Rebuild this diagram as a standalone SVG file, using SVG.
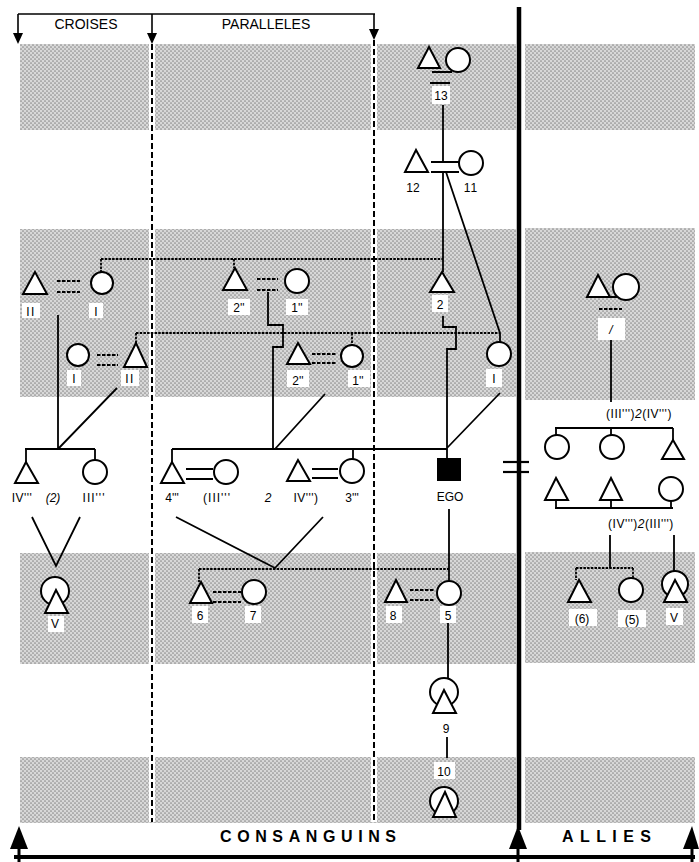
<svg xmlns="http://www.w3.org/2000/svg" width="699" height="862" viewBox="0 0 699 862">
<defs>
<pattern id="ht" width="4" height="4" patternUnits="userSpaceOnUse"><rect width="4" height="4" fill="#d8d8d8"/><circle cx="1" cy="1" r="0.85" fill="#8c8c8c"/><circle cx="3" cy="3" r="0.85" fill="#8c8c8c"/></pattern>
<style>
.band{fill:url(#ht)}
.s{fill:#fff;stroke:#000;stroke-width:2}
.ln{stroke:#000;stroke-width:1.8;fill:none}
.dot{stroke-dasharray:2.5 1.2}
.dsh{stroke-dasharray:3.5 1.5}
.div{stroke:#000;stroke-width:2;stroke-dasharray:6 3;fill:none}
.t{font-family:"Liberation Sans",Arial,sans-serif;font-size:12px;text-anchor:middle;fill:#000}
.i{font-style:italic}
.box{fill:#fff}
.hd{font-family:"Liberation Sans",Arial,sans-serif;font-size:14px;text-anchor:middle;fill:#000}
.ft{font-family:"Liberation Sans",Arial,sans-serif;font-size:16px;font-weight:bold;fill:#000}
</style>
</defs>
<rect width="699" height="862" fill="#fff"/>
<g id="bands">
<rect class="band" x="20" y="44" width="496" height="86"/><rect class="band" x="525" y="44" width="170" height="86"/>
<rect class="band" x="20" y="229" width="496" height="168"/><rect class="band" x="525" y="228" width="170" height="172"/>
<rect class="band" x="20" y="553" width="496" height="111"/><rect class="band" x="525" y="552" width="170" height="111"/>
<rect class="band" x="20" y="757" width="496" height="66"/><rect class="band" x="525" y="757" width="170" height="66"/>
</g>
<g id="frame">
<line x1="152" y1="44" x2="152" y2="822" stroke="#fff" stroke-width="6"/>
<line x1="374" y1="40" x2="374" y2="822" stroke="#fff" stroke-width="6"/>
<line class="div" x1="152" y1="44" x2="152" y2="822"/>
<line class="div" x1="374" y1="40" x2="374" y2="822"/>
<line x1="18" y1="14" x2="375" y2="14" stroke="#000" stroke-width="1.6"/>
<line x1="18" y1="14" x2="18" y2="34" stroke="#000" stroke-width="1.6"/><polygon points="13,33 23,33 18,44"/>
<line x1="152" y1="14" x2="152" y2="34" stroke="#000" stroke-width="1.6"/><polygon points="147,33 157,33 152,44"/>
<line x1="374" y1="14" x2="374" y2="30" stroke="#000" stroke-width="1.6"/><polygon points="369,29 379,29 374,40"/>
<text class="hd" x="86" y="29">CROISES</text>
<text class="hd" x="266" y="29">PARALLELES</text>
<line x1="519" y1="7" x2="519" y2="830" stroke="#000" stroke-width="4.5"/>
<line x1="503" y1="462" x2="529" y2="462" stroke="#000" stroke-width="2.2"/>
<line x1="503" y1="472" x2="529" y2="472" stroke="#000" stroke-width="2.2"/>
<line x1="14" y1="857" x2="695" y2="857" stroke="#000" stroke-width="4"/>
<line x1="19" y1="845" x2="19" y2="862" stroke="#000" stroke-width="3"/><polygon points="10,849 28,849 19,826"/>
<line x1="518" y1="845" x2="518" y2="862" stroke="#000" stroke-width="3"/><polygon points="509,849 527,849 518,826"/>
<line x1="692" y1="845" x2="692" y2="862" stroke="#000" stroke-width="3"/><polygon points="683,849 699,849 692,826"/>
<text class="ft" x="220" y="842" letter-spacing="5.6">CONSANGUINS</text>
<text class="ft" x="562" y="842" letter-spacing="6.4">ALLIES</text>
</g>
<g id="connectors">
<path class="ln" d="M443,105V162M431,162H459M431,172H459M443,172V272M446,172L500,333V342"/>
<path class="ln" d="M432,72H452M430,83H450"/>
<path class="ln dot" d="M101,259H443M101,259V272M234,259V268"/>
<path class="ln dot" d="M136,333H500M136,333V343M352,333V345"/>
<path class="ln dsh" d="M57,281H80M57,292H80M97,355H118M97,365H118"/>
<path class="ln" d="M58,315V449M117,388L58,449M25,449H95M26,449V462M95,449V460"/>
<path class="ln" d="M32,517L56,566L80,517"/>
<path class="ln dsh" d="M257,279H278M257,290H278M312,354H337M312,363H337"/>
<path class="ln" d="M268,292V325H283V347H273V449M325,394L275,449"/>
<path class="ln" d="M172,449H447M172,449V462M353,449V459"/>
<path class="ln" d="M186,469H213M186,479H213M312,469H338M312,478H338"/>
<path class="ln" d="M443,316V327H456V349H447V458M500,393L447,448"/>
<path class="ln" d="M449,509V582"/>
<path class="ln dot" d="M199,569H449M199,569V582"/>
<path class="ln" d="M176,517L275,568L323,517"/>
<path class="ln dsh" d="M213,592H241M213,602H241M410,590H435M410,600H435"/>
<path class="ln" d="M448,606V678M447,737V758"/>
<path class="ln" d="M598,297H632"/>
<path class="ln dsh" d="M599,309H622"/>
<path class="ln" d="M611,340V402M555,428H673M556,428V436M611,428V435M673,428V440"/>
<path class="ln" d="M555,508H673M556,500V508M611,500V508M671,501V508"/>
<path class="ln" d="M610,535V568M674,535V571"/>
<path class="ln dot" d="M576,568H633M576,568V580M633,568V578"/>
</g>
<g id="n13"><polygon class="s" points="429,47 418,68 440,68"/><circle class="s" cx="458" cy="60" r="12"/><rect class="box" x="432" y="86" width="18" height="18"/><text class="t" x="441" y="100">13</text></g>
<g id="n12"><polygon class="s" points="416,150 405,172 428,172"/><text class="t" x="413" y="192">12</text></g>
<g id="n11"><circle class="s" cx="471" cy="163" r="12"/><text class="t" x="471" y="192" letter-spacing="1">11</text></g>
<g id="nII_a"><polygon class="s" points="35,272 23,294 47,294"/><rect class="box" x="22" y="303" width="18" height="15"/><text class="t" x="31" y="316" letter-spacing="1.5">II</text></g>
<g id="nI_a"><circle class="s" cx="102" cy="283" r="11"/><rect class="box" x="89" y="303" width="14" height="15"/><text class="t" x="96" y="316">I</text></g>
<g id="nI_b"><circle class="s" cx="78" cy="355" r="11"/><rect class="box" x="67" y="370" width="14" height="16"/><text class="t" x="74" y="383">I</text></g>
<g id="nII_b"><polygon class="s" points="136,343 124,367 147,367"/><rect class="box" x="121" y="370" width="18" height="16"/><text class="t" x="130" y="383" letter-spacing="1.5">II</text></g>
<g id="n2pp_a"><polygon class="s" points="235,268 223,290 247,290"/><rect class="box" x="228" y="299" width="22" height="16"/><text class="t" x="239" y="312">2''</text></g>
<g id="n1pp_a"><circle class="s" cx="297" cy="281" r="12"/><rect class="box" x="286" y="299" width="22" height="16"/><text class="t" x="297" y="312">1''</text></g>
<g id="n2pp_b"><polygon class="s" points="298,343 287,364 310,364"/><rect class="box" x="287" y="370" width="22" height="17"/><text class="t" x="298" y="385">2''</text></g>
<g id="n1pp_b"><circle class="s" cx="352" cy="356" r="11"/><rect class="box" x="348" y="370" width="22" height="17"/><text class="t" x="358" y="385">1''</text></g>
<g id="n2"><polygon class="s" points="442,272 430,292 454,292"/><rect class="box" x="432" y="295" width="16" height="17"/><text class="t" x="440" y="309">2</text></g>
<g id="nI_c"><circle class="s" cx="499" cy="354" r="12"/><rect class="box" x="486" y="369" width="16" height="18"/><text class="t" x="494" y="383">I</text></g>
<g id="nIV3_a"><polygon class="s" points="26,462 15,483 38,483"/><text class="t" x="22" y="502" letter-spacing="0.5">IV'''</text></g>
<g id="nIII3_a"><circle class="s" cx="95" cy="472" r="12"/><text class="t" x="94" y="502" letter-spacing="1">III'''</text><text class="t i" x="53" y="502">(2)</text></g>
<g id="nV_a"><circle class="s" cx="55" cy="591" r="14"/><polygon class="s" points="56,590 45,613 68,613"/><rect class="box" x="48" y="616" width="16" height="16"/><text class="t" x="55" y="628">V</text></g>
<g id="n4"><polygon class="s" points="172,462 161,483 184,483"/><text class="t" x="172" y="502">4'''</text></g>
<g id="nIII3_b"><circle class="s" cx="226" cy="472" r="12"/><text class="t" x="217" y="502" letter-spacing="1">(III'''</text><text class="t i" x="268" y="502">2</text></g>
<g id="nIV3_b"><polygon class="s" points="298,460 287,481 310,481"/><text class="t" x="306" y="502" letter-spacing="0.5">IV''')</text></g>
<g id="n3"><circle class="s" cx="352" cy="471" r="12"/><text class="t" x="352" y="502">3'''</text></g>
<g id="nEGO"><rect x="437" y="458" width="24" height="23" fill="#000"/><text class="t" x="450" y="501">EGO</text></g>
<g id="n6"><polygon class="s" points="201,582 190,603 212,603"/><rect class="box" x="192" y="606" width="16" height="17"/><text class="t" x="200" y="620">6</text></g>
<g id="n7"><circle class="s" cx="254" cy="592" r="12"/><rect class="box" x="245" y="606" width="16" height="17"/><text class="t" x="253" y="620">7</text></g>
<g id="n8"><polygon class="s" points="396,580 385,602 407,602"/><rect class="box" x="386" y="606" width="16" height="17"/><text class="t" x="393" y="620">8</text></g>
<g id="n5"><circle class="s" cx="449" cy="593" r="12"/><rect class="box" x="440" y="606" width="16" height="17"/><text class="t" x="448" y="620">5</text></g>
<g id="n9"><circle class="s" cx="444" cy="692" r="14"/><polygon class="s" points="444,690 433,713 456,713"/><text class="t" x="446" y="733">9</text></g>
<g id="n10"><rect class="box" x="434" y="762" width="21" height="17"/><text class="t" x="444" y="776">10</text><circle class="s" cx="444" cy="801" r="14"/><polygon class="s" points="445,792 433,817 456,817"/></g>
<g id="nA1"><polygon class="s" points="598,275 587,297 610,297"/><circle class="s" cx="626" cy="287" r="13"/><rect class="box" x="598" y="318" width="27" height="22"/><text class="t i" x="611" y="334">/</text></g>
<g id="nA_lab1"><text class="t" x="639" y="418" letter-spacing="0.5">(III''')<tspan class="i">2</tspan>(IV''')</text></g>
<g id="nA2"><circle class="s" cx="557" cy="447" r="12"/></g>
<g id="nA3"><circle class="s" cx="612" cy="447" r="12"/></g>
<g id="nA4"><polygon class="s" points="673,440 662,459 684,459"/></g>
<g id="nA5"><polygon class="s" points="556,478 545,500 568,500"/></g>
<g id="nA6"><polygon class="s" points="611,478 600,500 622,500"/></g>
<g id="nA7"><circle class="s" cx="671" cy="489" r="12"/></g>
<g id="nA_lab2"><text class="t" x="641" y="528" letter-spacing="0.5">(IV''')<tspan class="i">2</tspan>(III''')</text></g>
<g id="nA6b"><polygon class="s" points="579,580 568,602 591,602"/><rect class="box" x="569" y="609" width="28" height="17"/><text class="t" x="582" y="623">(6)</text></g>
<g id="nA5b"><circle class="s" cx="631" cy="590" r="12"/><rect class="box" x="618" y="610" width="28" height="17"/><text class="t" x="632" y="624">(5)</text></g>
<g id="nAV"><circle class="s" cx="675" cy="584" r="13"/><polygon class="s" points="675,580 664,602 687,602"/><rect class="box" x="666" y="608" width="17" height="17"/><text class="t" x="674" y="622">V</text></g>
</svg>
